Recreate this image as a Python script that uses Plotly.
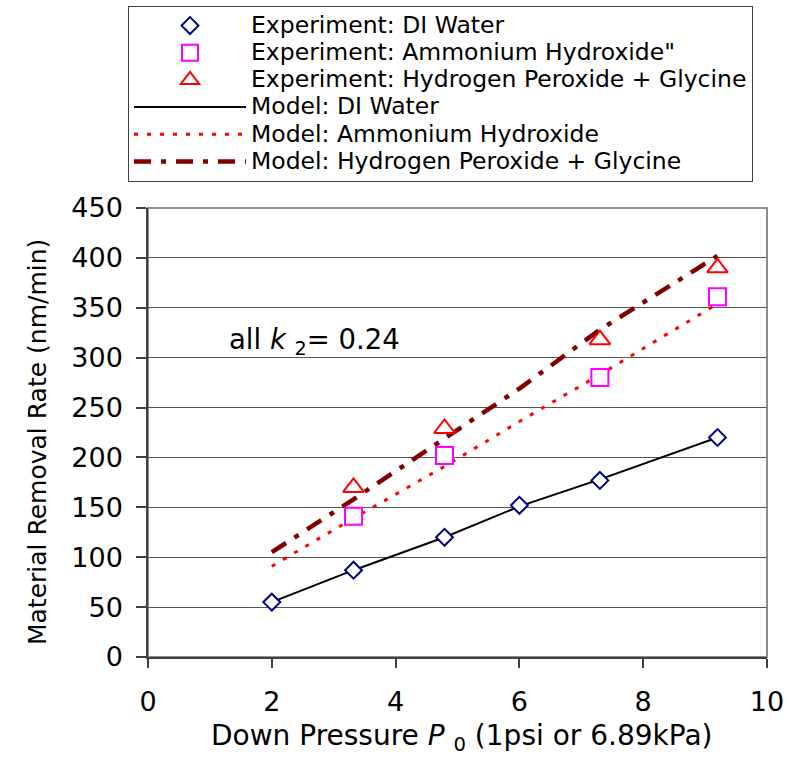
import plotly.graph_objects as go

# Down pressure (psi) and measured removal rates (nm/min)
pressure_di = [2.0, 3.32, 4.79, 6.0, 7.3, 9.2]
mrr_di_exp = [55, 87, 120, 152, 177, 220]

pressure_slurry = [3.32, 4.79, 7.3, 9.2]
mrr_nh4oh_exp = [141, 202, 280, 361]
mrr_h2o2_exp = [170, 229, 318, 390]

# Model predictions (k2 = 0.24 for all)
pressure_model = [2.0, 3.32, 4.79, 6.0, 7.3, 9.2]
mrr_di_model = [55, 87, 120, 151, 178, 220]
mrr_nh4oh_model = [91, 139, 191, 236, 283, 354]
mrr_h2o2_model = [105, 158, 219, 269, 328, 402]

y_ticks = [0, 50, 100, 150, 200, 250, 300, 350, 400, 450]
x_ticks = [0, 2, 4, 6, 8, 10]

FONT = "DejaVu Sans"
LEG = '<span style="font-size:23.5px">{}</span>'

fig = go.Figure()

# model curves (drawn first so the open markers sit on top)
fig.add_trace(go.Scatter(
    x=pressure_model, y=mrr_di_model, mode="lines",
    name=LEG.format("Model: DI Water"), legendrank=4,
    line=dict(color="#000000", width=2)))
fig.add_trace(go.Scatter(
    x=pressure_model, y=mrr_nh4oh_model, mode="lines",
    name=LEG.format("Model: Ammonium Hydroxide"), legendrank=5,
    line=dict(color="#FF0000", width=3, dash="4px,9px")))
fig.add_trace(go.Scatter(
    x=pressure_model, y=mrr_h2o2_model, mode="lines",
    name=LEG.format("Model: Hydrogen Peroxide + Glycine"), legendrank=6,
    line=dict(color="#800000", width=4.5, dash="17px,10px,5px,10px")))

# experimental points
fig.add_trace(go.Scatter(
    x=pressure_di, y=mrr_di_exp, mode="markers",
    name=LEG.format("Experiment: DI Water"), legendrank=1,
    marker=dict(symbol="diamond", size=13, color="white",
                line=dict(color="#000080", width=2))))
fig.add_trace(go.Scatter(
    x=pressure_slurry, y=mrr_nh4oh_exp, mode="markers",
    name=LEG.format("Experiment: Ammonium Hydroxide\""), legendrank=2,
    marker=dict(symbol="square", size=17, color="white",
                line=dict(color="#FF00FF", width=2))))
fig.add_trace(go.Scatter(
    x=pressure_slurry, y=mrr_h2o2_exp, mode="markers",
    name=LEG.format("Experiment: Hydrogen Peroxide + Glycine"), legendrank=3,
    marker=dict(symbol="triangle-up", size=18, color="white",
                line=dict(color="#FF0000", width=2))))

fig.update_layout(
    width=798, height=759,
    margin=dict(l=148, r=31, t=208, b=102, autoexpand=False),
    paper_bgcolor="white", plot_bgcolor="white",
    font=dict(family=FONT, color="black", size=27),
    showlegend=True,
    legend=dict(
        x=-0.0323, y=1.4499, xanchor="left", yanchor="top",
        bgcolor="white", bordercolor="#404040", borderwidth=1,
        font=dict(family=FONT, size=18.6, color="black"),
        itemwidth=112, traceorder="normal",
    ),
    xaxis=dict(
        range=[0, 10], tickvals=x_ticks, showgrid=False, zeroline=False,
        showline=True, linecolor="#404040", linewidth=1.5,
        ticks="outside", ticklen=9, tickcolor="#404040", tickwidth=1.5,
        tickfont=dict(family=FONT, size=27), ticklabelstandoff=11,
        automargin=False,
    ),
    yaxis=dict(
        range=[0, 450], tickvals=y_ticks, showgrid=True,
        gridcolor="#555555", gridwidth=1, zeroline=False,
        showline=True, linecolor="#404040", linewidth=1.5,
        ticks="outside", ticklen=10, tickcolor="#404040", tickwidth=1.5,
        tickfont=dict(family=FONT, size=27), ticklabelstandoff=8,
        automargin=False,
    ),
    shapes=[dict(type="rect", xref="paper", yref="paper",
                 x0=0, x1=1, y0=0, y1=1,
                 line=dict(color="#8c8c8c", width=2), layer="below")],
    annotations=[
        dict(text="Down Pressure <i>P</i> <sub>0</sub> (1psi or 6.89kPa)",
             xref="paper", yref="paper", x=0.5065, y=-0.179,
             xanchor="center", yanchor="middle", showarrow=False,
             font=dict(family=FONT, size=28)),
        dict(text="Material Removal Rate (nm/min)",
             xref="paper", yref="paper", x=-0.1793, y=0.4788,
             xanchor="center", yanchor="middle", textangle=-90,
             showarrow=False, font=dict(family=FONT, size=25)),
        dict(text="all <i>k</i> <sub>2</sub>= 0.24",
             xref="x", yref="y", x=1.27, y=316,
             xanchor="left", yanchor="middle", showarrow=False,
             font=dict(family=FONT, size=27.5)),
    ],
)

fig.write_html("out.html")
